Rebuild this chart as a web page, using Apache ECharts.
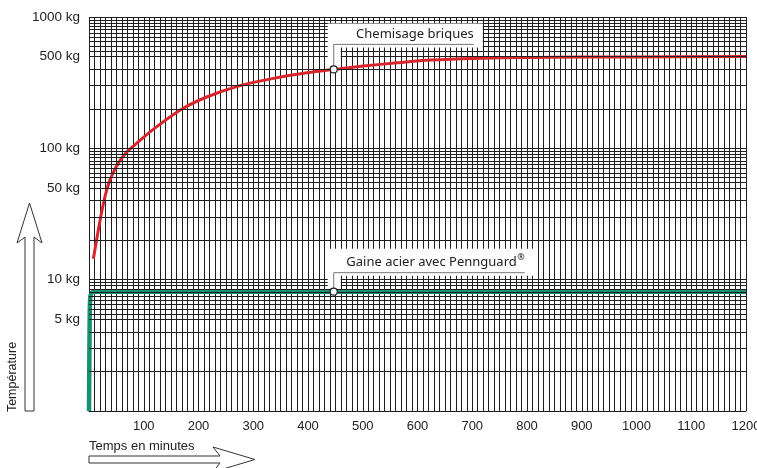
<!DOCTYPE html>
<html><head><meta charset="utf-8">
<script src="https://cdn.jsdelivr.net/npm/echarts@6/dist/echarts.min.js"></script>
<style>html,body{margin:0;padding:0;background:#fff}#c{width:757px;height:468px}</style>
</head><body><div id="c"></div>
<script>
// ---- data ----
const xTickLabels = [100, 200, 300, 400, 500, 600, 700, 800, 900, 1000, 1100, 1200];
const yTickLabels = [5, 10, 50, 100, 500, 1000];
const yGridValues = [1, 2, 3, 4, 5, 5.5, 6, 6.5, 7, 7.5, 8, 8.5, 9, 9.5,
  10, 20, 30, 40, 50, 55, 60, 65, 70, 75, 80, 85, 90, 95,
  100, 200, 300, 400, 500, 550, 600, 650, 700, 750, 800, 850, 900, 950, 1000];
const brickSeries = [[8, 14.4], [20, 28], [29, 42.5], [38, 57], [51, 74], [66, 91], [90, 112],
  [115, 137], [166, 195], [215, 246], [276, 300], [337, 341], [398, 376], [447, 399],
  [501, 423], [563, 448], [624, 470], [700, 484], [807, 492], [990, 497], [1200, 500]];
const steelSeries = [[0, 1], [1.2, 5], [2.2, 7.2], [4, 7.85], [7, 8.05], [12, 8.1], [1200, 8.1]];
const brickLabel = 'Chemisage briques';
const steelLabel = 'Gaine acier avec Pennguard';
const annotationX = 447;
const brickAtAnnotation = 399;
const steelAtAnnotation = 8.1;
const xAxisTitle = 'Temps en minutes';
const yAxisTitle = 'Température';

const gridColor = '#1e1e1e';
const chart = echarts.init(document.getElementById('c'), null, {renderer: 'canvas'});
const option = {
  animation: false,
  backgroundColor: '#fff',
  grid: {left: 89, right: 11, top: 17, bottom: 57, containLabel: false, outerBoundsMode: 'none'},
  xAxis: {
    type: 'value', min: 0, max: 1200, interval: 10,
    axisLine: {show: true, lineStyle: {color: gridColor, width: 1}},
    axisTick: {show: false},
    splitLine: {show: true, lineStyle: {color: gridColor, width: 1}},
    axisLabel: {
      margin: 9, color: '#222', fontSize: 13, fontFamily: 'Liberation Sans',
      formatter: v => xTickLabels.includes(v) ? String(v) : ''
    }
  },
  yAxis: {
    type: 'log', logBase: 10, min: 1, max: 1000,
    axisLine: {show: false}, axisTick: {show: false},
    axisLabel: {show: false}, splitLine: {show: false}
  },
  series: [
    {
      type: 'line', data: [], z: 1, silent: true,
      markLine: {
        silent: true, symbol: 'none', animation: false,
        lineStyle: {color: gridColor, width: 1, type: 'solid'},
        emphasis: {disabled: true},
        data: yGridValues.map(v => ({
          yAxis: v,
          label: {
            show: yTickLabels.includes(v), position: 'start', distance: 9,
            formatter: v + ' kg', color: '#222', fontSize: 13.5, fontFamily: 'Liberation Sans'
          }
        }))
      }
    },
    {
      name: brickLabel, type: 'line', data: brickSeries, z: 3,
      smooth: 0.3, showSymbol: false, symbol: 'none',
      lineStyle: {color: '#d8252b', width: 3}
    },
    {
      name: steelLabel, type: 'line', data: steelSeries, z: 3,
      smooth: 0.3, showSymbol: false, symbol: 'none',
      lineStyle: {color: '#16906e', width: 4.5}
    }
  ]
};
chart.setOption(option);

const pb = chart.convertToPixel({gridIndex: 0}, [annotationX, brickAtAnnotation]);
const ps = chart.convertToPixel({gridIndex: 0}, [annotationX, steelAtAnnotation]);
const txtFont = {fontSize: 13, fontFamily: 'Noto Sans', fill: '#222'};
const graphics = [];
function annotate(p, rise, len, boxTop, boxRight, text, sup) {
  const [px, py] = p;
  graphics.push({type: 'rect', z: 20, silent: true,
    shape: {x: px - 6, y: py - boxTop, width: len + boxRight + 6, height: boxTop - rise + 3},
    style: {fill: '#fff'}});
  graphics.push({type: 'rect', z: 20, silent: true,
    shape: {x: px - 6, y: py - rise, width: 13, height: rise - 3},
    style: {fill: '#fff'}});
  graphics.push({type: 'polyline', z: 21, silent: true,
    shape: {points: [[px, py], [px, py - rise], [px + len, py - rise]]},
    style: {stroke: '#777', lineWidth: 1, fill: null}});
  const tx = sup ? px + len - 8 : px + len;
  graphics.push({type: 'text', z: 22, silent: true, x: tx, y: py - rise - 10,
    style: Object.assign({text: text, textAlign: 'right', textVerticalAlign: 'middle'}, txtFont)});
  if (sup) {
    graphics.push({type: 'text', z: 22, silent: true, x: tx + 0.5, y: py - rise - 15,
      style: {text: sup, textAlign: 'left', textVerticalAlign: 'middle', fontSize: 9, fontFamily: 'Noto Sans', fill: '#222'}});
  }
  graphics.push({type: 'circle', z: 23, silent: true,
    shape: {cx: px, cy: py, r: 3.5},
    style: {fill: '#fff', stroke: '#222', lineWidth: 1.2}});
}
annotate(pb, 25, 140, 46, 9, brickLabel, null);
annotate(ps, 19, 191, 43, 9, steelLabel, '®');

// axis title arrows
graphics.push({type: 'polygon', z: 5, silent: true,
  shape: {points: [[25, 411], [25, 237], [17, 243], [29.5, 203], [42, 243], [34, 237], [34, 411]]},
  style: {fill: '#fff', stroke: '#333', lineWidth: 1}});
graphics.push({type: 'text', z: 5, silent: true, x: 13, y: 377, rotation: Math.PI / 2,
  style: {text: yAxisTitle, textAlign: 'center', textVerticalAlign: 'middle', fontSize: 12.5, fontFamily: 'Liberation Sans', fill: '#222'}});
graphics.push({type: 'polygon', z: 5, silent: true,
  shape: {points: [[89, 456], [220, 456], [213, 447], [255, 459.5], [213, 472], [220, 463], [89, 463]]},
  style: {fill: '#fff', stroke: '#333', lineWidth: 1}});
graphics.push({type: 'text', z: 5, silent: true, x: 89, y: 446,
  style: {text: xAxisTitle, textAlign: 'left', textVerticalAlign: 'middle', fontSize: 13, fontFamily: 'Liberation Sans', fill: '#222'}});

chart.setOption({graphic: graphics});
</script>
</body></html>
